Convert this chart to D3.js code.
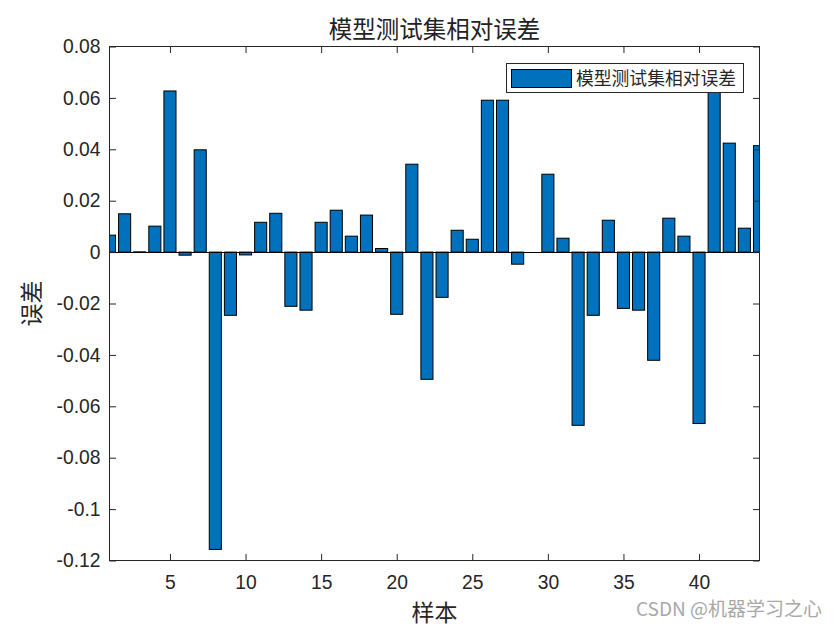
<!DOCTYPE html>
<html>
<head>
<meta charset="utf-8">
<script src="https://cdn.jsdelivr.net/npm/d3@7/dist/d3.min.js"></script>
<style>
  html, body { margin: 0; padding: 0; background: #fff; }
  svg { display: block; }
</style>
</head>
<body>
<svg id="chart" width="840" height="630"></svg>
<script>
// ---- data ----
const samples = d3.range(1, 45);
const errors = [
  0.0066, 0.0149, 0.0001, 0.0101, 0.0627, -0.0012, 0.0398, -0.1157, -0.0246, -0.0011,
  0.0116, 0.0151, -0.0211, -0.0226, 0.0116, 0.0163, 0.0062, 0.0144, 0.0014, -0.0242,
  0.0342, -0.0495, -0.0176, 0.0085, 0.0050, 0.0591, 0.0591, -0.0047, 0.0000, 0.0303,
  0.0054, -0.0674, -0.0246, 0.0124, -0.0219, -0.0226, -0.0421, 0.0132, 0.0062, -0.0667,
  0.0660, 0.0424, 0.0093, 0.0414
];
const xTicks = [5, 10, 15, 20, 25, 30, 35, 40];
const yTicks = [-0.12, -0.1, -0.08, -0.06, -0.04, -0.02, 0, 0.02, 0.04, 0.06, 0.08];
const yTickLabels = ["-0.12", "-0.1", "-0.08", "-0.06", "-0.04", "-0.02", "0", "0.02", "0.04", "0.06", "0.08"];
const titleText = "模型测试集相对误差";
const legendText = "模型测试集相对误差";
const xLabelText = "样本";
const yLabelText = "误差";
const watermark = "CSDN @机器学习之心";

// ---- layout ----
const L = 109.5, R = 759.5, T = 46.5, B = 560.5;
const svg = d3.select("#chart");
const x = d3.scaleLinear().domain([1, 44]).range([L, R]);
const y = d3.scaleLinear().domain([-0.12, 0.08]).range([B, T]);
const barW = x(1.8) - x(1);
const axisColor = "#262626";
const numFont = "'Liberation Sans', Arial, Helvetica, sans-serif";
const cjkFont = "'Noto Sans CJK SC', 'Noto Sans', sans-serif";

svg.append("defs").append("clipPath").attr("id", "plotclip")
  .append("rect").attr("x", L).attr("y", T).attr("width", R - L).attr("height", B - T);

// bars
const g = svg.append("g").attr("clip-path", "url(#plotclip)");
g.selectAll("rect.bar").data(samples).join("rect")
  .attr("class", "bar")
  .attr("x", d => x(d) - barW / 2)
  .attr("width", barW)
  .attr("y", (d, i) => y(Math.max(0, errors[i])))
  .attr("height", (d, i) => Math.abs(y(errors[i]) - y(0)))
  .attr("fill", "#0072BD")
  .attr("stroke", "#000")
  .attr("stroke-width", 1);

// baseline
svg.append("line")
  .attr("x1", L).attr("x2", R)
  .attr("y1", Math.round(y(0)) + 0.5).attr("y2", Math.round(y(0)) + 0.5)
  .attr("stroke", "#000").attr("stroke-width", 1);

// axes
function styleAxis(sel, showLabels) {
  sel.select(".domain").remove();
  sel.selectAll(".tick line").attr("stroke", axisColor);
  sel.selectAll(".tick text")
    .attr("fill", axisColor)
    .attr("font-family", numFont)
    .attr("font-size", "19.3px");
  if (!showLabels) sel.selectAll(".tick text").remove();
}
const tickLen = 6.5;
svg.append("g").attr("transform", `translate(0,${B})`)
  .call(d3.axisBottom(x).tickValues(xTicks).tickFormat(d3.format("d"))
    .tickSizeInner(-tickLen).tickSizeOuter(0).tickPadding(15))
  .call(s => styleAxis(s, true));
svg.append("g").attr("transform", `translate(0,${T})`)
  .call(d3.axisTop(x).tickValues(xTicks).tickSizeInner(-tickLen).tickSizeOuter(0))
  .call(s => styleAxis(s, false));
svg.append("g").attr("transform", `translate(${L},0)`)
  .call(d3.axisLeft(y).tickValues(yTicks).tickFormat((d, i) => yTickLabels[i])
    .tickSizeInner(-tickLen).tickSizeOuter(0).tickPadding(9))
  .call(s => styleAxis(s, true));
svg.append("g").attr("transform", `translate(${R},0)`)
  .call(d3.axisRight(y).tickValues(yTicks).tickSizeInner(-tickLen).tickSizeOuter(0))
  .call(s => styleAxis(s, false));

// box
svg.append("rect")
  .attr("x", L).attr("y", T).attr("width", R - L).attr("height", B - T)
  .attr("fill", "none").attr("stroke", axisColor).attr("stroke-width", 1);

// title
svg.append("text")
  .attr("x", (L + R) / 2).attr("y", 38)
  .attr("text-anchor", "middle")
  .attr("font-family", cjkFont).attr("font-size", "23.5px")
  .attr("fill", "#222")
  .text(titleText);

// x label
svg.append("text")
  .attr("x", (L + R) / 2).attr("y", 621)
  .attr("text-anchor", "middle")
  .attr("font-family", cjkFont).attr("font-size", "23px")
  .attr("fill", axisColor)
  .text(xLabelText);

// y label
svg.append("text")
  .attr("transform", `translate(40,${(T + B) / 2}) rotate(-90)`)
  .attr("text-anchor", "middle")
  .attr("font-family", cjkFont).attr("font-size", "23px")
  .attr("fill", axisColor)
  .text(yLabelText);

// legend
const lg = svg.append("g");
lg.append("rect")
  .attr("x", 506.5).attr("y", 63.5).attr("width", 237).attr("height", 29)
  .attr("fill", "#fff").attr("stroke", axisColor).attr("stroke-width", 1);
lg.append("rect")
  .attr("x", 511.5).attr("y", 69.5).attr("width", 60).attr("height", 18)
  .attr("fill", "#0072BD").attr("stroke", "#000").attr("stroke-width", 1);
lg.append("text")
  .attr("x", 576).attr("y", 84.5)
  .attr("font-family", cjkFont).attr("font-size", "17.8px")
  .attr("fill", axisColor)
  .text(legendText);

// watermark
svg.append("text")
  .attr("x", 822).attr("y", 616)
  .attr("text-anchor", "end")
  .attr("font-family", cjkFont).attr("font-size", "19px")
  .attr("fill", "#a8a8a8")
  .text(watermark);
</script>
</body>
</html>
